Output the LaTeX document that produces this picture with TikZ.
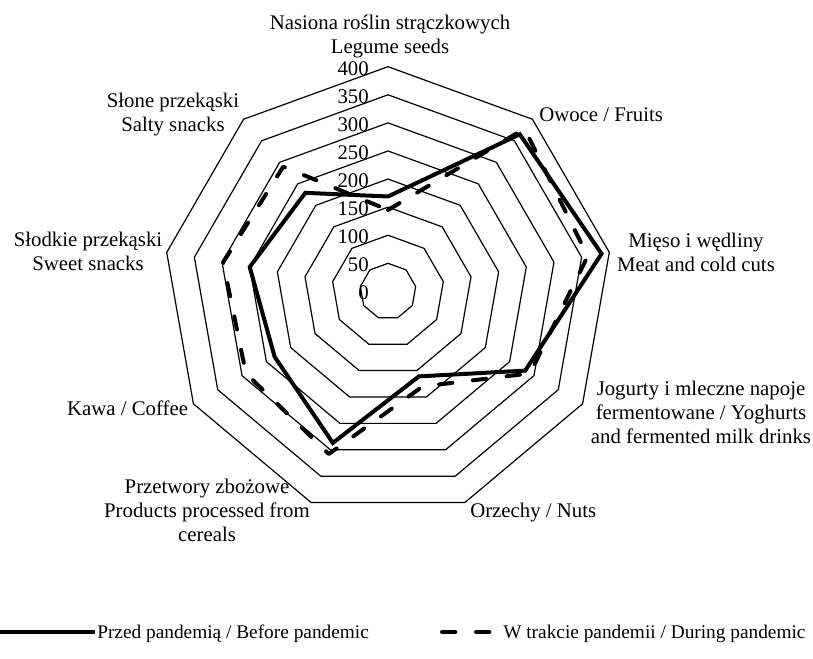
\documentclass[tikz,border=0pt]{standalone}
\usepackage{fontspec}
\setmainfont{Liberation Serif}
\begin{document}
\begin{tikzpicture}[x=0.75pt,y=-0.75pt,
  font=\fontsize{15.6}{18}\selectfont,
  ring/.style={draw=black, line width=0.9pt, line join=miter},
  before/.style={draw=black, line width=3pt, line join=miter},
  during/.style={draw=black, line width=3pt, dash pattern=on 10pt off 15.5pt, line cap=round, line join=round},
  lbl/.style={inner sep=0pt, align=center},
  legtext/.style={inner sep=0pt, font=\fontsize{14.5}{17}\selectfont},
  tick/.style={inner sep=0pt, anchor=east}]
\useasboundingbox (0,0) rectangle (813,659);
\def\cx{388}
\def\cy{291.4}
\def\sc{0.56175}
% rings
\foreach \v in {50,100,...,400}{
  \draw[ring] ({\cx}, {\cy-\v*\sc})
    \foreach \k in {1,...,8}{ -- ({\cx+\v*\sc*sin(40*\k)}, {\cy-\v*\sc*cos(40*\k)}) } -- cycle;
}
% tick labels
\foreach \v in {0,50,...,400}{
  \node[tick] (t\v) at (369, {\cy-\v*\sc+1.5}) {\v};
}
% data points
\foreach \v [count=\k from 0] in {169,365,386,282,161,287,233,250,229}{
  \coordinate (b\k) at ({\cx+\v*\sc*sin(40*\k)}, {\cy-\v*\sc*cos(40*\k)});
}
\foreach \v [count=\k from 0] in {145,378,361,292,180,308,292,298,290}{
  \coordinate (d\k) at ({\cx+\v*\sc*sin(40*\k)}, {\cy-\v*\sc*cos(40*\k)});
}
\draw[before] (b0) -- (b1) -- (b2) -- (b3) -- (b4) -- (b5) -- (b6) -- (b7) -- (b8) -- cycle;
\draw[during] (d0) -- (d1) -- (d2) -- (d3) -- (d4) -- (d5) -- (d6) -- (d7) -- (d8) -- cycle;
% category labels (base = baseline of last line)
\node[lbl, anchor=base] (c0) at (390, 54) {Nasiona roślin strączkowych\\Legume seeds};
\node[lbl, anchor=base west] (c1) at (539, 121.7) {Owoce / Fruits};
\node[lbl, anchor=base] (c2) at (696, 272) {Mięso i wędliny\\Meat and cold cuts};
\node[lbl, anchor=base] (c3) at (701, 443) {Jogurty i mleczne napoje\\fermentowane / Yoghurts\\and fermented milk drinks};
\node[lbl, anchor=base west] (c4) at (470, 517) {Orzechy / Nuts};
\node[lbl, anchor=base] (c5) at (207, 541) {Przetwory zbożowe\\Products processed from\\cereals};
\node[lbl, anchor=base east] (c6) at (188.3, 415) {Kawa / Coffee};
\node[lbl, anchor=base] (c7) at (88, 270.5) {Słodkie przekąski\\Sweet snacks};
\node[lbl, anchor=base] (c8) at (173, 132) {Słone przekąski\\Salty snacks};
% legend
\coordinate (la) at (0,632);
\coordinate (lb) at (95,632);
\draw[before] (la) -- (lb);
\node[legtext, anchor=base west] (l1) at (97, 638) {Przed pandemią / Before pandemic};
\coordinate (lc) at (442,632);
\coordinate (ld) at (494,632);
\draw[during] (lc) -- (ld);
\node[legtext, anchor=base west] (l2) at (503, 638) {W trakcie pandemii / During pandemic};
\end{tikzpicture}
\end{document}
